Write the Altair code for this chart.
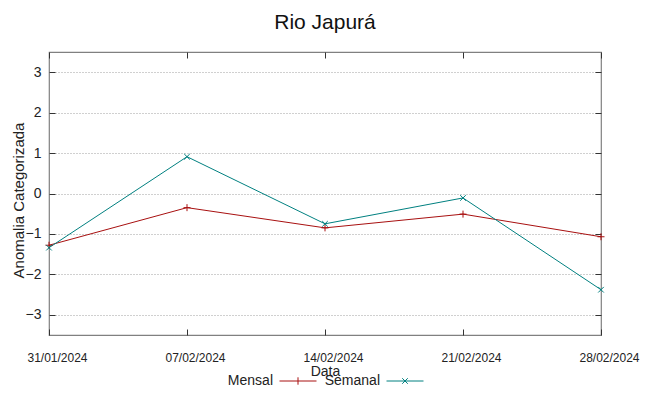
import altair as alt
import pandas as pd

datas = ["31/01/2024", "07/02/2024", "14/02/2024", "21/02/2024", "28/02/2024"]
mensal = [-1.28, -0.35, -0.85, -0.51, -1.07]
semanal = [-1.34, 0.91, -0.75, -0.11, -2.38]
series = ["Mensal", "Semanal"]
colors = ["#a81010", "#008080"]
y_ticks = [-3, -2, -1, 0, 1, 2, 3]

rows = []
for d, m, s in zip(datas, mensal, semanal):
    rows.append({"Data": d, "Serie": "Mensal", "Valor": m})
    rows.append({"Data": d, "Serie": "Semanal", "Valor": s})
df = pd.DataFrame(rows)

FONT = "Liberation Sans"
PLUS = "M-1,0L1,0M0,-1L0,1"
CROSS = "M-0.8,-0.8L0.8,0.8M-0.8,0.8L0.8,-0.8"

xscale = alt.Scale(type="point", padding=0)
yscale = alt.Scale(domain=[-3.5, 3.5], nice=False, zero=False)
cscale = alt.Scale(domain=series, range=colors)

legend_sym = ("datum.value == 'Mensal' ? 'M-1,0L1,0M0,-0.2L0,0.2' : "
              "'M-1,0L1,0M-0.15,-0.15L0.15,0.15M-0.15,0.15L0.15,-0.15'")

legend = alt.Legend(
    orient="none", legendX=230, legendY=310, direction="horizontal", title=None,
    symbolType=alt.ExprRef(expr=legend_sym), symbolSize=1369, symbolStrokeWidth=1,
    labelAlign="right", labelOffset=alt.ExprRef(expr="-44"), labelFont=FONT, labelFontSize=14,
    labelColor="#222222", columnPadding=5, padding=0, labelLimit=200,
)

x_main = alt.Axis(orient="bottom", ticks=False, tickSize=0, domain=False, grid=False,
                  labelFont=FONT, labelFontSize=12, labelAngle=0, labelPadding=26,
                  labelOffset=8,
                  labelBaseline="alphabetic", labelColor="#222222",
                  title="Data", titleFont=FONT, titleFontSize=14, titleFontWeight="normal",
                  titleY=40, titleBaseline="alphabetic", titleColor="#222222")
y_main = alt.Axis(orient="left", values=y_ticks, ticks=False, tickSize=0, domain=False,
                  grid=True, gridDash=[1, 2], gridColor="#a0a0a0", gridWidth=1,
                  labelFont=FONT, labelFontSize=14, labelPadding=8, labelColor="#222222",
                  title="Anomalia Categorizada", titleFont=FONT, titleFontSize=15,
                  titleFontWeight="normal", titleX=-31, titleY=148, titleBaseline="middle",
                  titleColor="#222222")

def tick_axis(orient, values=None):
    kw = dict(orient=orient, offset=-6, tickSize=6, tickColor="#333333", labels=False,
              domain=False, grid=False, title=None)
    if values is not None:
        kw["values"] = values
    return alt.Axis(**kw)

lines = alt.Chart(df).mark_line(strokeWidth=1).encode(
    x=alt.X("Data:O", sort=datas, scale=xscale, axis=x_main),
    y=alt.Y("Valor:Q", scale=yscale, axis=y_main),
    color=alt.Color("Serie:N", scale=cscale, legend=legend),
)

points_m = alt.Chart(df).transform_filter(alt.datum.Serie == "Mensal").mark_point(
    shape=PLUS, filled=False, strokeWidth=1, size=49, opacity=1
).encode(
    x=alt.X("Data:O", sort=datas, scale=xscale, axis=tick_axis("bottom")),
    y=alt.Y("Valor:Q", scale=yscale, axis=tick_axis("left", y_ticks)),
    color=alt.Color("Serie:N", scale=cscale, legend=None),
)

points_s = alt.Chart(df).transform_filter(alt.datum.Serie == "Semanal").mark_point(
    shape=CROSS, filled=False, strokeWidth=1, size=49, opacity=1
).encode(
    x=alt.X("Data:O", sort=datas, scale=xscale, axis=tick_axis("top")),
    y=alt.Y("Valor:Q", scale=yscale, axis=tick_axis("right", y_ticks)),
    color=alt.Color("Serie:N", scale=cscale, legend=None),
)

chart = alt.layer(lines, points_m, points_s).resolve_axis(
    x="independent", y="independent"
).properties(
    width=552, height=283,
    padding={"left": 41, "top": 44, "right": 40, "bottom": 61},
    autosize="none",
    title=alt.TitleParams("Rio Japurá", font=FONT, fontSize=21, fontWeight="normal",
                          color="#111111", anchor="middle", baseline="alphabetic",
                          offset=2, frame="group"),
).configure_view(stroke="#808080", strokeWidth=1.2)

chart.save("out.html", embed_options={"renderer": "svg", "actions": False})
